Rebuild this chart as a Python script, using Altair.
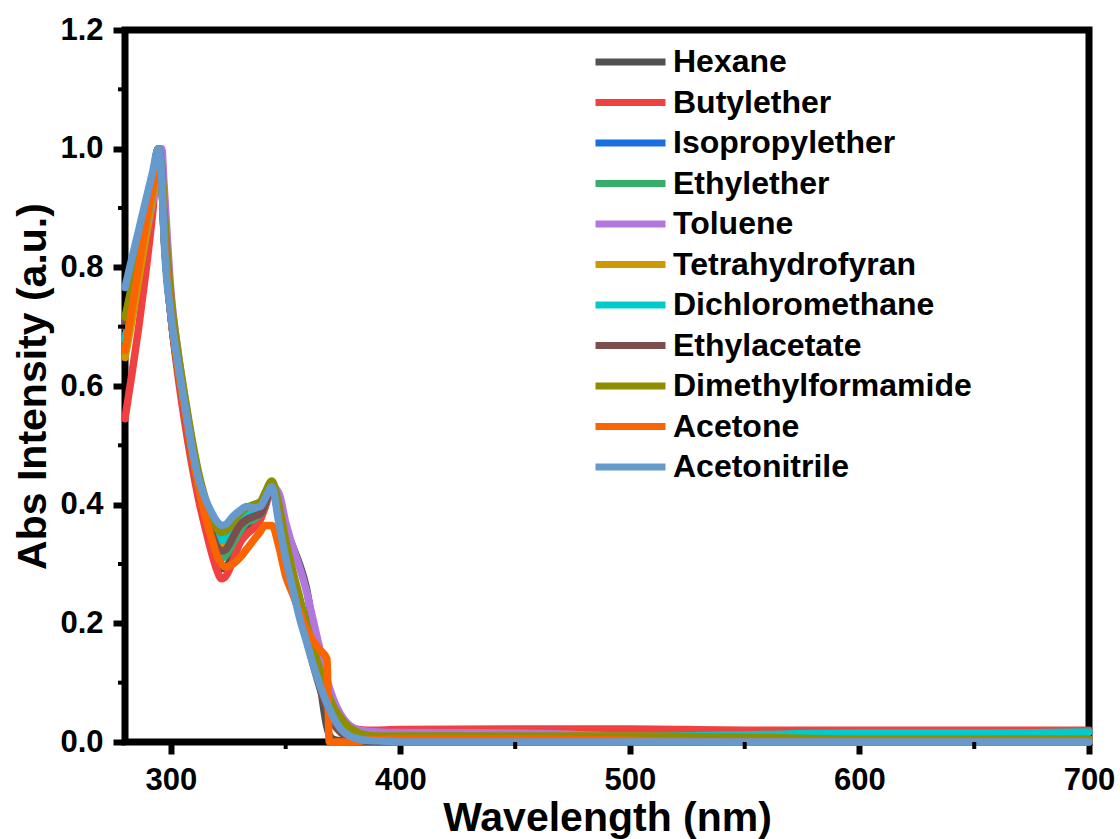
import altair as alt
import pandas as pd

# Wavelength grid (nm) shared by all spectra
wavelength = [280, 283, 286, 289, 292, 294.5, 296, 297,
              300, 303, 306, 309, 312, 315, 318, 320,
              322, 324, 327, 330, 333, 336, 339, 341,
              344, 347, 350, 353, 356, 359, 362, 365,
              368, 369, 371, 374, 377, 380, 385, 390,
              400, 450, 500, 550, 600, 650, 700]

solvents = ["Hexane", "Butylether", "Isopropylether", "Ethylether", "Toluene",
            "Tetrahydrofyran", "Dichloromethane", "Ethylacetate",
            "Dimethylformamide", "Acetone", "Acetonitrile"]

colors = ["#515151", "#F14040", "#1A6FDF", "#37AD6B", "#B177DE",
          "#CC9900", "#00CBCC", "#7D4E4E", "#8E8E00", "#FB6501", "#6699CC"]

hexane = [0.70, 0.75, 0.81, 0.87, 0.93, 1.00, 0.95, 0.86,
          0.72, 0.63, 0.56, 0.49, 0.43, 0.38, 0.335, 0.31,
          0.292, 0.295, 0.315, 0.34, 0.355, 0.365, 0.38, 0.40,
          0.43, 0.40, 0.36, 0.33, 0.30, 0.26, 0.19, 0.10,
          0.025, 0.012, 0.004, 0.002, 0.001, 0.001, 0.001, 0.001,
          0.001, 0.001, 0.001, 0.001, 0.001, 0.001, 0.001]

butylether = [0.545, 0.62, 0.70, 0.79, 0.89, 0.99, 0.95, 0.87,
              0.72, 0.62, 0.54, 0.47, 0.41, 0.36, 0.315, 0.29,
              0.275, 0.28, 0.305, 0.335, 0.35, 0.36, 0.375, 0.395,
              0.425, 0.385, 0.33, 0.28, 0.23, 0.185, 0.145, 0.105,
              0.075, 0.065, 0.05, 0.035, 0.026, 0.022, 0.02, 0.02,
              0.021, 0.022, 0.022, 0.02, 0.02, 0.02, 0.02]

isopropylether = [0.71, 0.77, 0.83, 0.89, 0.95, 1.00, 0.95, 0.86,
                  0.72, 0.63, 0.56, 0.49, 0.435, 0.39, 0.355, 0.335,
                  0.325, 0.33, 0.345, 0.365, 0.38, 0.385, 0.39, 0.405,
                  0.43, 0.38, 0.32, 0.27, 0.22, 0.175, 0.135, 0.095,
                  0.06, 0.05, 0.035, 0.018, 0.009, 0.005, 0.003, 0.002,
                  0.002, 0.002, 0.002, 0.002, 0.002, 0.002, 0.002]

ethylether = [0.70, 0.76, 0.82, 0.88, 0.94, 1.00, 0.95, 0.86,
              0.72, 0.63, 0.56, 0.49, 0.43, 0.385, 0.345, 0.322,
              0.31, 0.315, 0.335, 0.355, 0.37, 0.375, 0.385, 0.40,
              0.43, 0.38, 0.32, 0.27, 0.22, 0.175, 0.135, 0.095,
              0.062, 0.052, 0.036, 0.02, 0.01, 0.006, 0.004, 0.003,
              0.003, 0.003, 0.003, 0.003, 0.003, 0.004, 0.005]

toluene = [0.68, 0.73, 0.79, 0.85, 0.91, 0.96, 1.00, 0.94,
           0.76, 0.66, 0.58, 0.51, 0.45, 0.40, 0.36, 0.34,
           0.33, 0.332, 0.345, 0.365, 0.38, 0.385, 0.39, 0.40,
           0.43, 0.42, 0.37, 0.33, 0.295, 0.255, 0.205, 0.155,
           0.105, 0.092, 0.07, 0.046, 0.031, 0.023, 0.018, 0.017,
           0.016, 0.015, 0.01, 0.008, 0.007, 0.006, 0.005]

tetrahydrofyran = [0.648, 0.71, 0.78, 0.85, 0.92, 0.99, 0.95, 0.87,
                   0.73, 0.64, 0.57, 0.50, 0.44, 0.39, 0.355, 0.34,
                   0.33, 0.335, 0.35, 0.37, 0.385, 0.39, 0.395, 0.41,
                   0.435, 0.39, 0.33, 0.28, 0.23, 0.185, 0.145, 0.105,
                   0.07, 0.06, 0.045, 0.027, 0.016, 0.01, 0.006, 0.005,
                   0.004, 0.004, 0.004, 0.004, 0.004, 0.004, 0.004]

dichloromethane = [0.677, 0.74, 0.81, 0.87, 0.93, 1.00, 0.96, 0.87,
                   0.73, 0.64, 0.57, 0.50, 0.44, 0.395, 0.36, 0.35,
                   0.34, 0.345, 0.36, 0.375, 0.385, 0.39, 0.395, 0.41,
                   0.43, 0.385, 0.325, 0.275, 0.23, 0.185, 0.145, 0.105,
                   0.07, 0.06, 0.043, 0.025, 0.014, 0.009, 0.006, 0.005,
                   0.005, 0.006, 0.009, 0.012, 0.015, 0.015, 0.017]

ethylacetate = [0.70, 0.76, 0.82, 0.88, 0.94, 1.00, 0.95, 0.86,
                0.72, 0.63, 0.56, 0.49, 0.43, 0.385, 0.35, 0.33,
                0.322, 0.325, 0.345, 0.365, 0.375, 0.38, 0.385, 0.40,
                0.43, 0.38, 0.32, 0.27, 0.22, 0.175, 0.13, 0.09,
                0.055, 0.045, 0.03, 0.016, 0.008, 0.005, 0.003, 0.002,
                0.002, 0.002, 0.002, 0.002, 0.002, 0.002, 0.002]

dimethylformamide = [0.716, 0.77, 0.83, 0.88, 0.93, 0.98, 0.97, 0.90,
                     0.75, 0.66, 0.585, 0.515, 0.455, 0.41, 0.375, 0.36,
                     0.353, 0.356, 0.37, 0.385, 0.395, 0.40, 0.405, 0.42,
                     0.44, 0.40, 0.34, 0.29, 0.245, 0.20, 0.16, 0.12,
                     0.085, 0.075, 0.058, 0.041, 0.027, 0.019, 0.012, 0.01,
                     0.01, 0.01, 0.01, 0.008, 0.005, 0.005, 0.005]

acetone = [0.66, 0.73, 0.80, 0.87, 0.93, 0.99, 0.95, 0.86,
           0.72, 0.63, 0.56, 0.49, 0.43, 0.38, 0.34, 0.315,
           0.30, 0.295, 0.30, 0.31, 0.325, 0.34, 0.355, 0.365,
           0.365, 0.33, 0.28, 0.25, 0.22, 0.19, 0.17, 0.155,
           0.14, 0.0, 0.0, 0.0, 0.0, 0.0, 0.003, 0.004,
           0.005, 0.005, 0.003, 0.0, 0.0, 0.0, 0.0]

acetonitrile = [0.766, 0.815, 0.863, 0.912, 0.96, 1.00, 0.95, 0.85,
                0.72, 0.64, 0.57, 0.50, 0.445, 0.41, 0.385, 0.372,
                0.365, 0.367, 0.38, 0.39, 0.397, 0.395, 0.397, 0.41,
                0.43, 0.37, 0.31, 0.26, 0.21, 0.17, 0.13, 0.095,
                0.065, 0.056, 0.04, 0.022, 0.012, 0.007, 0.003, 0.002,
                0.0, 0.0, 0.0, 0.0, 0.0, 0.0, 0.0]

spectra = [hexane, butylether, isopropylether, ethylether, toluene,
           tetrahydrofyran, dichloromethane, ethylacetate,
           dimethylformamide, acetone, acetonitrile]

x_ticks = [300, 400, 500, 600, 700]
x_minor = [350, 450, 550, 650]
y_ticks = [0.0, 0.2, 0.4, 0.6, 0.8, 1.0, 1.2]
y_minor = [0.1, 0.3, 0.5, 0.7, 0.9, 1.1]

rows = []
for name, values in zip(solvents, spectra):
    for w, a in zip(wavelength, values):
        rows.append({"Wavelength": w, "Abs": a, "Solvent": name})
df = pd.DataFrame(rows)

FONT = "Liberation Sans"
X_DOMAIN = [280, 700]
Y_DOMAIN = [0, 1.2]

axis_style = dict(
    labelFont=FONT, labelFontSize=31, labelFontWeight="bold", labelColor="black",
    titleFont=FONT, titleFontSize=41, titleFontWeight="bold", titleColor="black",
    tickColor="black", tickWidth=6, tickSize=12, domain=False, grid=False,
    labelFlush=False, labelOverlap=False,
)

x_enc = alt.X(
    "Wavelength:Q",
    scale=alt.Scale(domain=X_DOMAIN, nice=False, zero=False),
    axis=alt.Axis(title="Wavelength (nm)", values=x_ticks, format="d",
                  labelPadding=11, titleBaseline="alphabetic", titleY=88,
                  **axis_style),
)
y_enc = alt.Y(
    "Abs:Q",
    scale=alt.Scale(domain=Y_DOMAIN, nice=False),
    axis=alt.Axis(title="Abs Intensity (a.u.)", values=y_ticks, format=".1f",
                  labelPadding=10, titleBaseline="alphabetic", titleX=-80,
                  **axis_style),
)
color_enc = alt.Color(
    "Solvent:N",
    scale=alt.Scale(domain=solvents, range=colors),
    legend=alt.Legend(
        title=None, orient="none", legendX=467, legendY=12, padding=0,
        symbolType="stroke", symbolSize=4900, symbolStrokeWidth=7,
        clipHeight=40, rowPadding=0.5, labelOffset=4, labelLimit=500,
        labelFont=FONT, labelFontSize=32, labelFontWeight="bold",
        labelColor="black", symbolOpacity=1,
    ),
)

base = alt.Chart(df).mark_line(
    strokeWidth=7.5, interpolate="monotone", strokeJoin="round", strokeCap="round"
).encode(x=x_enc, y=y_enc, color=color_enc)

# One layer per solvent so the drawing order follows the legend order
lines = [base.transform_filter(alt.datum.Solvent == name) for name in solvents]

# Short minor ticks on both axes (same scales and axes as the spectra)
minor_x = alt.Chart(pd.DataFrame({"Wavelength": x_minor, "Abs": [0.0] * len(x_minor)})).mark_rule(
    color="black", strokeWidth=4, y2Offset=7
).encode(x=x_enc, y=y_enc, y2="Abs:Q")
minor_y = alt.Chart(pd.DataFrame({"Abs": y_minor, "Wavelength": [280] * len(y_minor)})).mark_rule(
    color="black", strokeWidth=4, x2Offset=-7
).encode(y=y_enc, x=x_enc, x2="Wavelength:Q")

chart = alt.layer(*lines, minor_x, minor_y).properties(
    width=964,
    height=712,
    autosize=alt.AutoSizeParams(type="none"),
    padding={"left": 125, "top": 30, "right": 31, "bottom": 97},
    background="white",
).configure_view(stroke="black", strokeWidth=7)

chart.save("out.html", embed_options={"renderer": "svg", "actions": False})
